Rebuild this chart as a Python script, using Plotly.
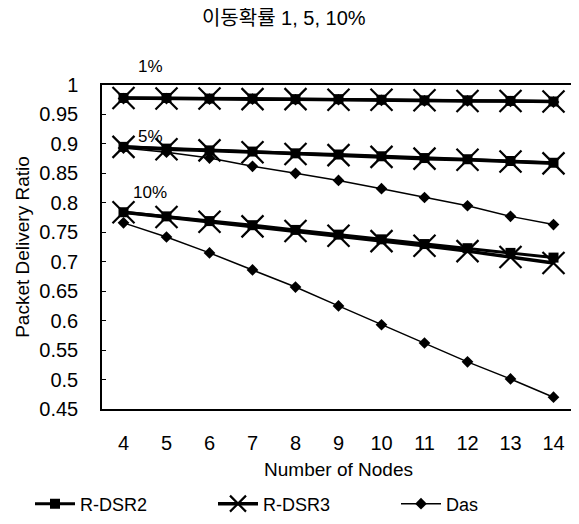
import plotly.graph_objects as go

nodes = ["4", "5", "6", "7", "8", "9", "10", "11", "12", "13", "14"]

# 1% mobility
rdsr2_1 = [0.978, 0.978, 0.977, 0.977, 0.976, 0.976, 0.975, 0.974, 0.974, 0.973, 0.972]
rdsr3_1 = [0.978, 0.977, 0.977, 0.976, 0.976, 0.975, 0.975, 0.974, 0.973, 0.973, 0.972]
das_1 = [0.977, 0.977, 0.976, 0.976, 0.975, 0.975, 0.974, 0.973, 0.973, 0.972, 0.971]
# 5% mobility
rdsr2_5 = [0.895, 0.892, 0.889, 0.887, 0.884, 0.882, 0.879, 0.876, 0.874, 0.871, 0.868]
rdsr3_5 = [0.895, 0.891, 0.889, 0.886, 0.883, 0.881, 0.878, 0.875, 0.873, 0.870, 0.867]
das_5 = [0.893, 0.886, 0.876, 0.862, 0.850, 0.838, 0.824, 0.809, 0.795, 0.777, 0.763]
# 10% mobility
rdsr2_10 = [0.784, 0.777, 0.769, 0.762, 0.754, 0.746, 0.738, 0.730, 0.723, 0.715, 0.707]
rdsr3_10 = [0.784, 0.776, 0.768, 0.760, 0.752, 0.744, 0.735, 0.727, 0.718, 0.708, 0.698]
das_10 = [0.766, 0.742, 0.715, 0.686, 0.657, 0.625, 0.593, 0.562, 0.530, 0.501, 0.470]

group_labels = ["1%", "5%", "10%"]
label_y = [1.031, 0.912, 0.817]

Y_MIN, Y_MAX = 0.45, 1.0
FONT = "Liberation Sans, Arial, sans-serif"
fig = go.Figure()

groups = [(rdsr2_1, rdsr3_1, das_1), (rdsr2_5, rdsr3_5, das_5), (rdsr2_10, rdsr3_10, das_10)]
for gi, (r2, r3, d) in enumerate(groups):
    show = gi == 0
    fig.add_trace(go.Scatter(x=nodes, y=d, mode="lines+markers", name="Das",
                             legendgroup="das", showlegend=show, legendrank=3,
                             line=dict(color="black", width=1.5),
                             marker=dict(symbol="diamond", size=9, color="black")))
    fig.add_trace(go.Scatter(x=nodes, y=r2, mode="lines+markers", name="R-DSR2",
                             legendgroup="r2", showlegend=show, legendrank=1,
                             line=dict(color="black", width=3),
                             marker=dict(symbol="square", size=10, color="black")))
    fig.add_trace(go.Scatter(x=nodes, y=r3, mode="lines+markers", name="R-DSR3",
                             legendgroup="r3", showlegend=show, legendrank=2,
                             line=dict(color="black", width=3.5),
                             marker=dict(symbol="x-thin", size=22, color="black",
                                         line=dict(color="black", width=2.2))))

for lab, yv in zip(group_labels, label_y):
    fig.add_annotation(x=0.62, y=(yv - Y_MIN) / (Y_MAX - Y_MIN), xref="x", yref="paper",
                       xanchor="center", yanchor="middle",
                       text=lab, showarrow=False,
                       font=dict(family=FONT, size=17, color="black"))

fig.update_layout(
    width=571, height=516,
    paper_bgcolor="white", plot_bgcolor="white",
    margin=dict(l=94, r=2, t=77, b=115),
    title=dict(text="이동확률 1, 5, 10%", x=0.483, xanchor="center", y=0.981, yanchor="middle",
               font=dict(family="Liberation Sans, Noto Sans CJK KR, sans-serif", size=20,
                         color="black")),
    font=dict(family=FONT, size=18, color="black"),
    showlegend=True,
    legend=dict(orientation="h", x=-0.141, xanchor="left",
                y=-0.293, yanchor="middle",
                entrywidth=128, entrywidthmode="pixels", traceorder="normal",
                font=dict(family=FONT, size=18, color="black"), itemwidth=40),
    xaxis=dict(type="category", range=[-0.5, 10.5], showgrid=False, zeroline=False,
               showline=True, linecolor="black", linewidth=1.5, mirror=True,
               ticks="", tickfont=dict(size=20), ticklabelstandoff=15,
               title=dict(text="Number of Nodes", font=dict(size=19), standoff=10)),
    yaxis=dict(range=[Y_MIN, Y_MAX], showgrid=False, zeroline=False,
               showline=True, linecolor="black", linewidth=1.5, mirror="ticks",
               ticks="inside", ticklen=4, tickcolor="black",
               tickvals=[0.45, 0.5, 0.55, 0.6, 0.65, 0.7, 0.75, 0.8, 0.85, 0.9, 0.95, 1.0],
               ticktext=["0.45", "0.5", "0.55", "0.6", "0.65", "0.7", "0.75", "0.8", "0.85", "0.9", "0.95", "1"],
               tickfont=dict(size=20), ticklabelstandoff=18,
               title=dict(text="Packet Delivery Ratio", font=dict(size=19), standoff=5)),
)
fig.update_traces(cliponaxis=False)

fig.write_html("out.html")
